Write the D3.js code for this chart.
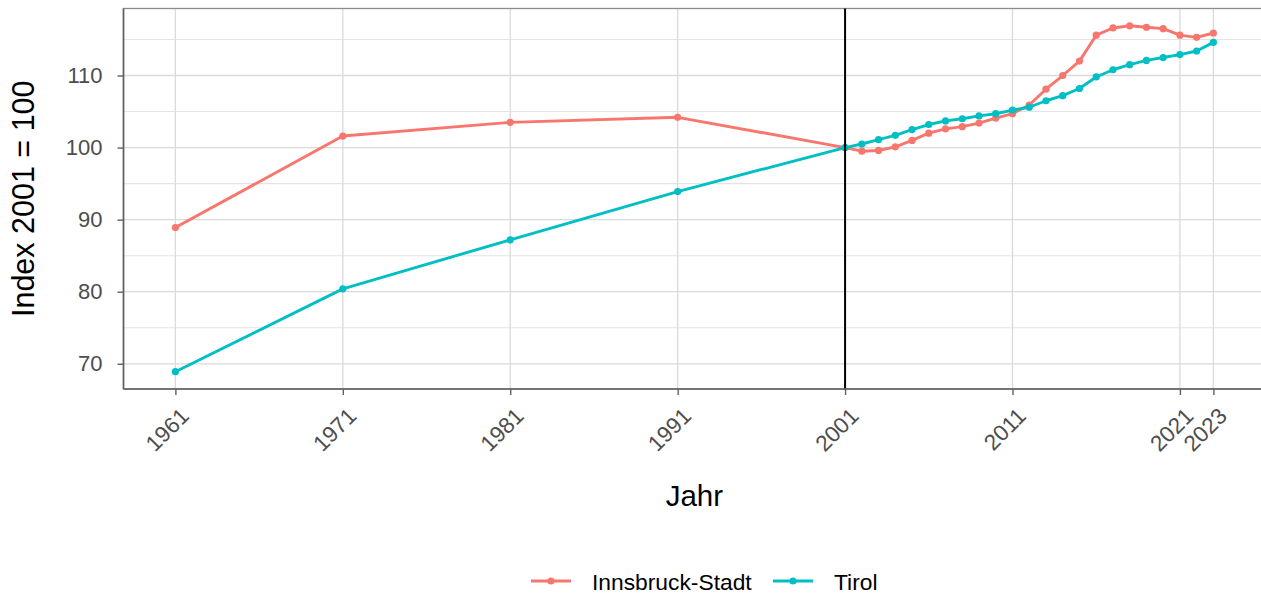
<!DOCTYPE html>
<html>
<head>
<meta charset="utf-8">
<script src="https://cdn.jsdelivr.net/npm/d3@7"></script>
<style>
  html, body { margin: 0; padding: 0; background: #fff; }
  svg { display: block; font-family: "Liberation Sans", Arial, sans-serif; }
</style>
</head>
<body>
<svg id="chart" width="1261" height="593"></svg>
<script>
// ---- data ----
const years = [1961, 1971, 1981, 1991, 2001, 2002, 2003, 2004, 2005, 2006, 2007, 2008, 2009, 2010,
               2011, 2012, 2013, 2014, 2015, 2016, 2017, 2018, 2019, 2020, 2021, 2022, 2023];
const innsbruck = [88.9, 101.6, 103.5, 104.2, 100.0, 99.5, 99.6, 100.1, 101.0, 102.0, 102.6, 102.9, 103.4, 104.1,
                   104.7, 105.9, 108.1, 110.0, 112.0, 115.6, 116.6, 116.9, 116.7, 116.5, 115.6, 115.3, 115.9];
const tirol = [68.9, 80.4, 87.2, 93.9, 100.0, 100.5, 101.1, 101.7, 102.5, 103.2, 103.7, 104.0, 104.4, 104.7,
               105.2, 105.6, 106.5, 107.2, 108.2, 109.8, 110.8, 111.5, 112.1, 112.5, 112.9, 113.4, 114.6];
const seriesNames = ["Innsbruck-Stadt", "Tirol"];
const seriesColors = ["#F8766D", "#00BFC4"];
const xTicks = [1961, 1971, 1981, 1991, 2001, 2011, 2021, 2023];
const yTicks = [70, 80, 90, 100, 110];
const yMinor = [75, 85, 95, 105, 115];
const refYear = 2001;
const xTitle = "Jahr";
const yTitle = "Index 2001 = 100";

// ---- layout ----
const svg = d3.select("#chart");
const pLeft = 123.5, pTop = 8.5, pBottom = 389, pRight = 1265.3;

function expand(ext) { const s = ext[1] - ext[0]; return [ext[0] - 0.05 * s, ext[1] + 0.05 * s]; }
const x = d3.scaleLinear().domain(expand(d3.extent(years))).range([pLeft, pRight]);
const y = d3.scaleLinear().domain(expand(d3.extent(innsbruck.concat(tirol)))).range([pBottom, pTop]);

const series = [innsbruck, tirol].map((vals, i) => ({
  name: seriesNames[i], color: seriesColors[i],
  points: years.map((yr, j) => ({ yr, v: vals[j] }))
}));

// grid
const grid = svg.append("g");
grid.selectAll("line.minor").data(yMinor).join("line")
  .attr("x1", pLeft).attr("x2", pRight).attr("y1", d => y(d)).attr("y2", d => y(d))
  .attr("stroke", "#e3e3e3").attr("stroke-width", 1.1);
grid.selectAll("line.majy").data(yTicks).join("line")
  .attr("x1", pLeft).attr("x2", pRight).attr("y1", d => y(d)).attr("y2", d => y(d))
  .attr("stroke", "#dadada").attr("stroke-width", 1.3);
grid.selectAll("line.majx").data(xTicks).join("line")
  .attr("y1", pTop).attr("y2", pBottom).attr("x1", d => x(d)).attr("x2", d => x(d))
  .attr("stroke", "#dadada").attr("stroke-width", 1.3);

// panel border
svg.append("rect").attr("x", pLeft).attr("y", pTop).attr("width", pRight - pLeft).attr("height", pBottom - pTop)
  .attr("fill", "none").attr("stroke", "#8c8c8c").attr("stroke-width", 1.3);

// lines & points
const line = d3.line().x(d => x(d.yr)).y(d => y(d.v));
const gS = svg.append("g");
series.forEach(s => {
  gS.append("path").datum(s.points).attr("d", line)
    .attr("fill", "none").attr("stroke", s.color).attr("stroke-width", 2.9)
    .attr("stroke-linejoin", "round");
  gS.append("g").selectAll("circle").data(s.points).join("circle")
    .attr("cx", d => x(d.yr)).attr("cy", d => y(d.v)).attr("r", 3.6).attr("fill", s.color);
});

// reference line
svg.append("line").attr("x1", x(refYear)).attr("x2", x(refYear)).attr("y1", pTop).attr("y2", pBottom)
  .attr("stroke", "#000").attr("stroke-width", 2);

// axis lines (left, bottom)
svg.append("line").attr("x1", pLeft).attr("x2", pLeft).attr("y1", pTop).attr("y2", pBottom)
  .attr("stroke", "#606060").attr("stroke-width", 1.6);
svg.append("line").attr("x1", pLeft).attr("x2", pRight).attr("y1", pBottom).attr("y2", pBottom)
  .attr("stroke", "#606060").attr("stroke-width", 1.6);

// y axis ticks & labels
const yAx = svg.append("g").attr("transform", `translate(${pLeft},0)`)
  .call(d3.axisLeft(y).tickValues(yTicks).tickSize(6).tickPadding(15).tickFormat(d3.format("d")));
yAx.select(".domain").remove();
yAx.selectAll(".tick line").attr("stroke", "#606060").attr("stroke-width", 1.4);
yAx.selectAll(".tick text").attr("fill", "#4d4d4d").attr("font-size", 22)
  .attr("font-family", "Liberation Sans, Arial, sans-serif");

// x axis ticks & labels
const xAx = svg.append("g").attr("transform", `translate(0,${pBottom})`)
  .call(d3.axisBottom(x).tickValues(xTicks).tickSize(6).tickFormat(d3.format("d")));
xAx.select(".domain").remove();
xAx.selectAll(".tick line").attr("stroke", "#606060").attr("stroke-width", 1.4);
xAx.selectAll(".tick text")
  .attr("fill", "#4d4d4d").attr("font-size", 22.5).attr("font-family", "Liberation Sans, Arial, sans-serif")
  .attr("text-anchor", "end").attr("x", null).attr("y", null).attr("dy", "0.72em")
  .attr("transform", "translate(3,17) rotate(-45)");

// titles
svg.append("text").attr("x", (pLeft + pRight) / 2).attr("y", 506).attr("text-anchor", "middle")
  .attr("font-size", 29.5).attr("fill", "#000").text(xTitle);
svg.append("text").attr("transform", `translate(34,${(pTop + pBottom) / 2}) rotate(-90)`)
  .attr("text-anchor", "middle").attr("font-size", 30.5).attr("fill", "#000").text(yTitle);

// legend
const legendItems = [
  { name: seriesNames[0], color: seriesColors[0], x0: 531 },
  { name: seriesNames[1], color: seriesColors[1], x0: 773 }
];
const lg = svg.append("g");
legendItems.forEach(it => {
  lg.append("line").attr("x1", it.x0).attr("x2", it.x0 + 40).attr("y1", 581).attr("y2", 581)
    .attr("stroke", it.color).attr("stroke-width", 3);
  lg.append("circle").attr("cx", it.x0 + 20).attr("cy", 581).attr("r", 3.6).attr("fill", it.color);
  lg.append("text").attr("x", it.x0 + 61).attr("y", 589.5).attr("font-size", 22.8).attr("fill", "#000").text(it.name);
});
</script>
</body>
</html>
